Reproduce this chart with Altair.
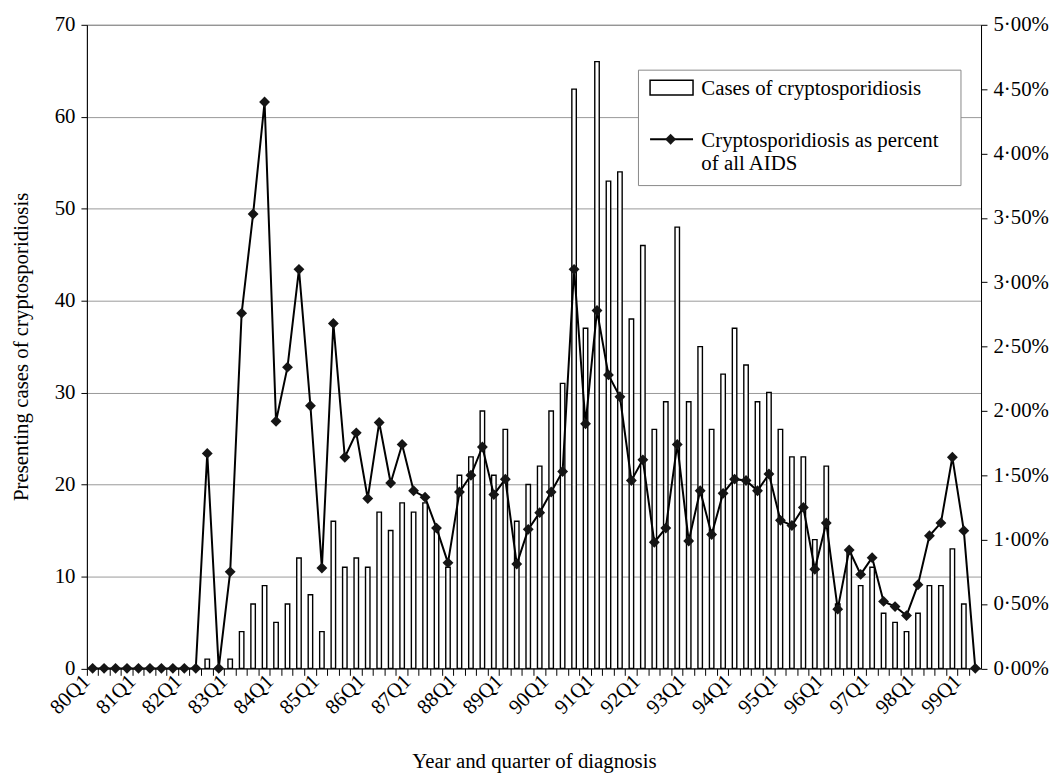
import altair as alt
import pandas as pd

years = [str(y) for y in range(80, 100)]
quarters = [f"{y}Q{q}" for y in years for q in (1, 2, 3, 4)][:78]

cases = [0, 0, 0, 0, 0, 0, 0, 0, 0, 0,
         1, 0, 1, 4, 7, 9, 5, 7, 12, 8,
         4, 16, 11, 12, 11, 17, 15, 18, 17, 18,
         15, 11, 21, 23, 28, 21, 26, 16, 20, 22,
         28, 31, 63, 37, 66, 53, 54, 38, 46, 26,
         29, 48, 29, 35, 26, 32, 37, 33, 29, 30,
         26, 23, 23, 14, 22, 7, 13, 9, 11, 6,
         5, 4, 6, 9, 9, 13, 7, 0]

pct = [0, 0, 0, 0, 0, 0, 0, 0, 0, 0,
       1.67, 0, 0.75, 2.76, 3.53, 4.40, 1.92, 2.34, 3.10, 2.04,
       0.78, 2.68, 1.64, 1.83, 1.32, 1.91, 1.44, 1.74, 1.38, 1.33,
       1.09, 0.82, 1.37, 1.50, 1.72, 1.35, 1.47, 0.81, 1.08, 1.21,
       1.37, 1.53, 3.10, 1.90, 2.78, 2.28, 2.11, 1.46, 1.62, 0.98,
       1.09, 1.74, 0.99, 1.38, 1.04, 1.36, 1.47, 1.46, 1.38, 1.51,
       1.15, 1.11, 1.25, 0.77, 1.13, 0.46, 0.92, 0.73, 0.86, 0.52,
       0.48, 0.41, 0.65, 1.03, 1.13, 1.64, 1.07, 0]

left_ticks = [0, 10, 20, 30, 40, 50, 60, 70]
right_ticks = [0, 0.5, 1, 1.5, 2, 2.5, 3, 3.5, 4, 4.5, 5]

legend_bar_label = "Cases of cryptosporidiosis"
legend_line_label = ["Cryptosporidiosis as percent", "of all AIDS"]

df = pd.DataFrame({"quarter": quarters, "cases": cases, "pct": pct})

FONT = "Liberation Serif"
FS = 21
H = 648.5

x_axis = alt.Axis(
    bandPosition=0,
    labels=False,
    tickSize=7,
    tickColor="black",
    domainColor="black",
    titleFont=FONT,
    titleFontSize=FS,
    titleFontWeight="normal",
    titleColor="black",
    titleY=100,
    titleBaseline="alphabetic",
    grid=False,
)

x_enc = alt.X(
    "quarter:N",
    sort=quarters,
    scale=alt.Scale(paddingInner=0, paddingOuter=0),
    axis=x_axis,
    title="Year and quarter of diagnosis",
)

bars = alt.Chart(df).mark_bar(
    fill="white", stroke="black", strokeWidth=1.4, size=4.5
).encode(
    x=x_enc,
    y=alt.Y(
        "cases:Q",
        scale=alt.Scale(domain=[0, 70], nice=False),
        axis=alt.Axis(
            orient="left",
            values=left_ticks,
            grid=True,
            gridColor="#999999",
            gridWidth=1,
            tickSize=6,
            tickColor="black",
            domainColor="black",
            labelPadding=6,
            labelColor="black",
            labelFont=FONT,
            labelFontSize=FS,
            titleFont=FONT,
            titleFontSize=FS,
            titleFontWeight="normal",
            titleColor="black",
            titleX=-65.5,
            titleY=324,
            titleAlign="center",
            titleBaseline="middle",
        ),
        title="Presenting cases of cryptosporidiosis",
    ),
)

# quarter labels (Q1 only), slanted at 45 degrees, ending at the start of each year's band
xlabels = alt.Chart(df).transform_calculate(
    lab="indexof(datum.quarter, 'Q1') > 0 ? datum.quarter : ''"
).mark_text(
    angle=315, align="right", baseline="middle", font=FONT, fontSize=FS, color="black"
).encode(
    x=alt.X("quarter:N", sort=quarters, bandPosition=0),
    y=alt.value(H + 10),
    text="lab:N",
)

y_pct = alt.Y(
    "pct:Q",
    scale=alt.Scale(domain=[0, 5], nice=False),
    axis=alt.Axis(
        orient="right",
        values=right_ticks,
        labelExpr="replace(format(datum.value, '.2f'), '.', '·') + '%'",
        grid=False,
        tickSize=6,
        tickColor="black",
        domainColor="black",
        labelPadding=6,
        labelColor="black",
        labelFont=FONT,
        labelFontSize=FS,
    ),
    title=None,
)

line = alt.Chart(df).mark_line(color="black", strokeWidth=2).encode(
    x=alt.X("quarter:N", sort=quarters), y=y_pct
)
pts = alt.Chart(df).mark_point(
    shape="diamond", size=120, filled=True, color="#151515", opacity=1
).encode(x=alt.X("quarter:N", sort=quarters), y=alt.Y("pct:Q"))

pct_layer = alt.layer(line, pts)

one = pd.DataFrame({"k": [0]})

leg_box = alt.Chart(one).mark_rect(
    fill="white", stroke="#888888", strokeWidth=1
).encode(
    x=alt.value(555.8), x2=alt.value(880.8), y=alt.value(45.7), y2=alt.value(162)
)
leg_bar = alt.Chart(one).mark_rect(
    fill="white", stroke="black", strokeWidth=1.5
).encode(
    x=alt.value(567.5), x2=alt.value(610.8), y=alt.value(55.8), y2=alt.value(70.8)
)
leg_rule = alt.Chart(one).mark_rule(color="black", strokeWidth=2).encode(
    x=alt.value(567.5), x2=alt.value(610.8), y=alt.value(115.3)
)
leg_pt = alt.Chart(one).mark_point(
    shape="diamond", size=120, filled=True, color="#151515", opacity=1
).encode(x=alt.value(588.2), y=alt.value(115.3))

txt_kw = dict(align="left", baseline="alphabetic", font=FONT, fontSize=FS, color="black")
leg_t1 = alt.Chart(one).mark_text(**txt_kw).encode(
    x=alt.value(619.2), y=alt.value(70.7), text=alt.value(legend_bar_label)
)
leg_t2 = alt.Chart(one).mark_text(**txt_kw).encode(
    x=alt.value(619.2), y=alt.value(123), text=alt.value(legend_line_label[0])
)
leg_t3 = alt.Chart(one).mark_text(**txt_kw).encode(
    x=alt.value(619.2), y=alt.value(146), text=alt.value(legend_line_label[1])
)

chart = alt.layer(
    bars, xlabels, pct_layer, leg_box, leg_bar, leg_rule, leg_pt, leg_t1, leg_t2, leg_t3
).resolve_scale(
    y="independent"
).properties(
    width=901,
    height=H,
    autosize=alt.AutoSizeParams(type="none"),
    padding={"left": 79.5, "top": 14, "right": 68.5, "bottom": 103.5},
    background="white",
).configure_view(
    stroke="#666666", strokeWidth=1
)

chart.save("out.html", embed_options={"renderer": "svg", "actions": False})
